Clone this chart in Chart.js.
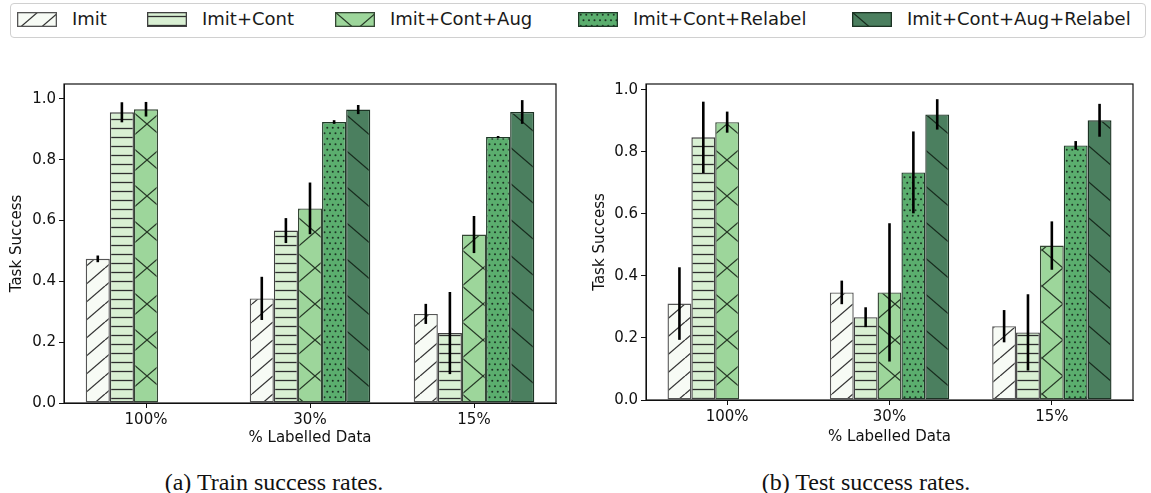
<!DOCTYPE html>
<html>
<head>
<meta charset="utf-8">
<script src="https://cdn.jsdelivr.net/npm/chart.js@4.4.1/dist/chart.umd.min.js"></script>
<style>
  body { margin: 0; background: #fff; width: 1151px; height: 493px; position: relative; overflow: hidden; font-family: "DejaVu Sans", sans-serif; }
  #legendBox { position: absolute; left: 10px; top: 3px; width: 1136px; height: 35px; border: 1px solid #d0d0d0; border-radius: 4px; box-sizing: border-box; }
  .sw { position: absolute; top: 12px; }
  .lt { position: absolute; top: 8px; font-size: 18px; line-height: 22px; color: #1a1a1a; white-space: nowrap; }
  .cap { position: absolute; top: 468px; font-family: "Liberation Serif", serif; font-size: 24px; line-height: 28px; color: #111; transform: translateX(-50%); white-space: nowrap; }
  canvas.chart { position: absolute; top: 70px; }
</style>
</head>
<body>
<div id="legendBox"></div>
<div id="legend"></div>
<canvas id="trainChart" class="chart" width="570" height="380" style="left:0px"></canvas>
<canvas id="testChart" class="chart" width="570" height="380" style="left:580px"></canvas>
<div class="cap" style="left:274px">(a) Train success rates.</div>
<div class="cap" style="left:866px">(b) Test success rates.</div>

<script>
// data
var categories = ['100%', '30%', '15%'];
var seriesNames = ['Imit', 'Imit+Cont', 'Imit+Cont+Aug', 'Imit+Cont+Relabel', 'Imit+Cont+Aug+Relabel'];
var yTicks = [0, 0.2, 0.4, 0.6, 0.8, 1.0];

// train success (left)
var trainImit = [0.474, 0.344, 0.293];
var trainCont = [0.956, 0.567, 0.230];
var trainAug = [0.966, 0.640, 0.554];
var trainRelabel = [0, 0.924, 0.875];
var trainAugRelabel = [0, 0.965, 0.957];
var trainErrImit = [0.011, 0.071, 0.033];
var trainErrCont = [0.033, 0.041, 0.135];
var trainErrAug = [0.024, 0.085, 0.061];
var trainErrRelabel = [0, 0.006, 0.003];
var trainErrAugRelabel = [0, 0.015, 0.039];

// test success (right)
var testImit = [0.311, 0.347, 0.238];
var testCont = [0.847, 0.267, 0.218];
var testAug = [0.896, 0.347, 0.498];
var testRelabel = [0, 0.734, 0.821];
var testAugRelabel = [0, 0.921, 0.902];
var testErrImit = [0.117, 0.038, 0.052];
var testErrCont = [0.115, 0.032, 0.123];
var testErrAug = [0.034, 0.223, 0.078];
var testErrRelabel = [0, 0.132, 0.014];
var testErrAugRelabel = [0, 0.049, 0.053];

// ==========================================================================
// Hatch patterns
// ==========================================================================
function hatch(bg, w, h, ink, draw) {
  var c = document.createElement('canvas');
  c.width = w; c.height = h;
  var g = c.getContext('2d');
  g.fillStyle = bg;
  g.fillRect(0, 0, w, h);
  g.strokeStyle = ink;
  g.fillStyle = ink;
  g.lineWidth = 1.3;
  draw(g, w, h);
  return g.createPattern(c, 'repeat');
}

function diag(g, w, h, up) {
  for (var k = -1; k <= 1; k++) {
    g.beginPath();
    if (up) { g.moveTo(k * w, h); g.lineTo(k * w + w, 0); }
    else { g.moveTo(k * w, 0); g.lineTo(k * w + w, h); }
    g.stroke();
  }
}

var fills = [
  hatch('#f7fbf5', 21, 18, '#333', function (g, w, h) { diag(g, w, h, true); }),
  hatch('#d9f0d3', 4, 36, '#2e2e2e', function (g, w, h) {
    for (var y = 4.5; y < h; y += 9) { g.beginPath(); g.moveTo(0, y); g.lineTo(w, y); g.stroke(); }
  }),
  hatch('#9dd69b', 42, 36, '#263826', function (g, w, h) { diag(g, w, h, true); diag(g, w, h, false); }),
  hatch('#5bae6e', 11, 11, '#1c3324', function (g) {
    [[2.75, 2.75], [8.25, 2.75], [0, 8.25], [5.5, 8.25], [11, 8.25]].forEach(function (p) {
      g.beginPath(); g.arc(p[0], p[1], 1.0, 0, Math.PI * 2); g.fill();
    });
  }),
  hatch('#4b7f5f', 42, 36, '#172a1d', function (g, w, h) { diag(g, w, h, false); })
];
var edges = ['#555', '#404040', '#344634', '#1f3a28', '#1c3324'];

// ==========================================================================
// Legend
// ==========================================================================
var swLeft = [17, 147, 335, 578, 852];
var txtLeft = [72, 202, 390, 633, 907];
var legendEl = document.getElementById('legend');
seriesNames.forEach(function (name, i) {
  var c = document.createElement('canvas');
  c.width = 40; c.height = 15;
  c.className = 'sw';
  c.style.left = swLeft[i] + 'px';
  var g = c.getContext('2d');
  g.fillStyle = fills[i];
  g.fillRect(0, 0, 40, 15);
  g.strokeStyle = edges[i];
  g.lineWidth = 1.3;
  g.strokeRect(0.65, 0.65, 38.7, 13.7);
  legendEl.appendChild(c);
  var t = document.createElement('div');
  t.className = 'lt';
  t.style.left = txtLeft[i] + 'px';
  t.textContent = name;
  legendEl.appendChild(t);
});

// ==========================================================================
// Error bars + axes frame
// ==========================================================================
var errorBars = {
  id: 'errorBars',
  afterDatasetsDraw: function (chart) {
    var ctx = chart.ctx, y = chart.scales.y;
    ctx.save();
    ctx.strokeStyle = '#000';
    ctx.lineWidth = 2.6;
    chart.data.datasets.forEach(function (ds, i) {
      var meta = chart.getDatasetMeta(i);
      meta.data.forEach(function (bar, j) {
        var e = ds.errors[j];
        if (!e) return;
        var v = ds.data[j];
        ctx.beginPath();
        ctx.moveTo(bar.x, y.getPixelForValue(v + e));
        ctx.lineTo(bar.x, y.getPixelForValue(v - e));
        ctx.stroke();
      });
    });
    var a = chart.chartArea;
    ctx.strokeStyle = '#111';
    ctx.lineWidth = 1.2;
    ctx.strokeRect(a.left, a.top, a.right - a.left, a.bottom - a.top);
    ctx.restore();
  }
};

var tickFont = { family: 'DejaVu Sans', size: 15 };

function buildChart(id, series, errs, yMax, o) {
  return new Chart(document.getElementById(id), {
    type: 'bar',
    data: {
      labels: categories,
      datasets: series.map(function (d, i) {
        return {
          label: seriesNames[i],
          data: d,
          errors: errs[i],
          backgroundColor: fills[i],
          borderColor: edges[i],
          borderWidth: 1.4,
          borderSkipped: false,
          categoryPercentage: 0.735,
          barPercentage: 1
        };
      })
    },
    options: {
      responsive: false,
      animation: false,
      events: [],
      layout: { padding: { top: 14, right: o.padRight, left: 0, bottom: 0 } },
      plugins: { legend: { display: false }, tooltip: { enabled: false } },
      scales: {
        x: {
          grid: { display: true, drawOnChartArea: false, offset: false, tickLength: 5, color: '#111' },
          border: { color: '#111' },
          ticks: { font: tickFont, color: '#111', padding: 3, maxRotation: 0 },
          title: { display: true, text: '% Labelled Data', font: tickFont, color: '#111', padding: { top: 0, bottom: o.xTitlePad } },
          afterFit: function (s) { s.height = o.xH; }
        },
        y: {
          min: 0,
          max: yMax,
          afterBuildTicks: function (s) { s.ticks = yTicks.map(function (v) { return { value: v }; }); },
          grid: { display: true, drawOnChartArea: false, tickLength: 5, color: '#111' },
          border: { color: '#111' },
          ticks: { font: tickFont, color: '#111', padding: 3, callback: function (v) { return v.toFixed(1); } },
          title: { display: true, text: 'Task Success', font: tickFont, color: '#111', padding: { top: o.yTitlePad, bottom: 0 } },
          afterFit: function (s) { s.width = o.yW; }
        }
      }
    },
    plugins: [errorBars]
  });
}

buildChart('trainChart',
  [trainImit, trainCont, trainAug, trainRelabel, trainAugRelabel],
  [trainErrImit, trainErrCont, trainErrAug, trainErrRelabel, trainErrAugRelabel],
  1.049, { padRight: 14, xH: 47, xTitlePad: 3, yW: 64, yTitlePad: 8 });

buildChart('testChart',
  [testImit, testCont, testAug, testRelabel, testAugRelabel],
  [testErrImit, testErrCont, testErrAug, testErrRelabel, testErrAugRelabel],
  1.019, { padRight: 17, xH: 50, xTitlePad: 4, yW: 66, yTitlePad: 11 });
</script>
</body>
</html>
